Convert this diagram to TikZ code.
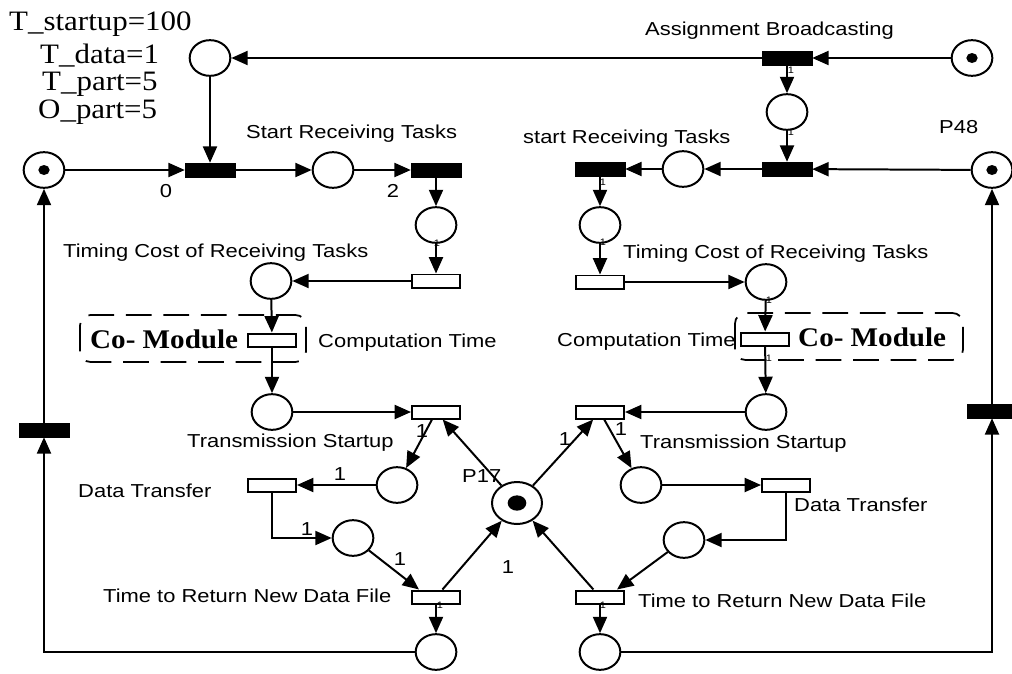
\documentclass[tikz,border=0pt]{standalone}
\usepackage{fontspec}
\setmainfont{Liberation Sans}
\newfontfamily\labfont[FakeStretch=1.17]{Liberation Sans}
\newfontfamily\parfont[FakeStretch=1.1]{Liberation Serif}
\newfontfamily\modfont[FakeStretch=1.08]{Liberation Serif}
\usetikzlibrary{arrows.meta,shapes.geometric,calc}

\tikzset{
  place/.style={draw, ellipse, minimum width=1.22cm, minimum height=1.07cm, inner sep=0pt, line width=1.7pt},
  bigplace/.style={place, minimum width=1.5cm, minimum height=1.26cm},
  bar/.style={fill=black, draw=black, minimum width=1.5cm, minimum height=0.42cm, inner sep=0pt},
  tbox/.style={draw, fill=white, minimum width=1.44cm, minimum height=0.39cm, inner sep=0pt, line width=1.7pt},
  arc/.style={line width=1.7pt, -{Triangle[length=14pt,width=12pt]}},
  lab/.style={anchor=base west, inner sep=0pt, font=\labfont\fontsize{16}{18}\selectfont},
  wlab/.style={anchor=base, inner sep=0pt, font=\labfont\fontsize{16}{18}\selectfont},
  par/.style={anchor=base west, inner sep=0pt, font=\parfont\fontsize{24}{28}\selectfont},
  modlab/.style={anchor=base west, inner sep=0pt, font=\modfont\bfseries\fontsize{23}{26}\selectfont},
  tick/.style={anchor=center, inner sep=0pt, font=\labfont\fontsize{8}{9}\selectfont},
  module/.style={line width=1.5pt, dash pattern=on 22pt off 10pt, rounded corners=9pt},
}

\begin{document}
\begin{tikzpicture}[x=0.03cm, y=-0.03cm]
\useasboundingbox (0,0) rectangle (1012,673);

% ---------- parameters ----------
\node[par] (par1) at (9,30) {T\_startup=100};
\node[par] (par2) at (40,63) {T\_data=1};
\node[par] (par3) at (42,90) {T\_part=5};
\node[par] (par4) at (38,118) {O\_part=5};

% ---------- left processor ----------
\node[place] (Ptop) at (210,58) {};
\node[place] (Pleft) at (44,170) {};
\fill (Pleft) ellipse (0.17cm and 0.15cm);
\node[bar] (T1) at (210,170) {};
\node[place] (Psr1) at (333,170) {};
\node[bar] (T2) at (436,170) {};
\node[place] (Pc1) at (436,225) {};
\node[tbox] (TC1) at (436,281) {};
\node[place] (Ptc1) at (271,281) {};
\node[tbox] (CM1) at (272,340) {};
\node[place] (Pts1) at (272,412) {};
\node[tbox] (TS1) at (436,412) {};
\node[place] (Pa1) at (397,485) {};
\node[tbox] (DT1) at (272,485) {};
\node[place] (Pb1) at (353,538) {};
\node[tbox] (TtR1) at (436,597) {};
\node[place] (Pbot1) at (436,652) {};
\node[bar] (Tleft) at (44,430) {};

% ---------- shared place ----------
\node[bigplace] (P17) at (517,503) {};
\fill (P17) ellipse (0.28cm and 0.23cm);

% ---------- right processor ----------
\node[place] (Ptr) at (972,58) {};
\fill (Ptr) ellipse (0.17cm and 0.15cm);
\node[bar] (TAB) at (787,58) {};
\node[place] (Pab) at (787,112) {};
\node[bar] (TR2) at (787,169) {};
\node[place] (P48) at (992,170) {};
\fill (P48) ellipse (0.17cm and 0.15cm);
\node[place] (Psr2) at (683,169) {};
\node[bar] (TR1) at (600,169) {};
\node[place] (Pc2) at (600,225) {};
\node[tbox] (TC2) at (600,282) {};
\node[place] (Ptc2) at (766,282) {};
\node[tbox] (CM2) at (765,339) {};
\node[place] (Pts2) at (766,412) {};
\node[tbox] (TS2) at (600,412) {};
\node[place] (Pa2) at (641,485) {};
\node[tbox] (DT2) at (786,485) {};
\node[place] (Pb2) at (684,540) {};
\node[tbox] (TtR2) at (600,597) {};
\node[place] (Pbot2) at (600,652) {};
\node[bar] (Tright) at (992,411) {};

% ---------- co-module frames ----------
\draw[module] (80,315) rectangle (306,362);
\draw[module] (735,313) rectangle (963,360);

% ---------- arcs, left ----------
\draw[arc] (Pleft) -- (T1);
\draw[arc] (Ptop) -- (T1);
\draw[arc] (T1) -- (Psr1);
\draw[arc] (Psr1) -- (T2);
\draw[arc] (T2) -- (Pc1);
\draw[arc] (Pc1) -- (TC1);
\draw[arc] (TC1) -- (Ptc1);
\draw[arc] (Ptc1) -- (CM1);
\draw[arc] (CM1) -- (Pts1);
\draw[arc] (Pts1) -- (TS1);
\draw[arc] (TS1) -- (Pa1);
\draw[arc] (P17) -- (TS1);
\draw[arc] (Pa1) -- (DT1);
\draw[arc] (DT1.south) |- (Pb1);
\draw[arc] (Pb1) -- ($(TtR1.north west)+(8,0)$);
\draw[arc] (TtR1) -- (P17);
\draw[arc] (TtR1) -- (Pbot1);
\coordinate (cBL) at (44,652);
\draw[arc] (Pbot1) -- (cBL) -- (Tleft);
\draw[arc] (Tleft) -- (Pleft);

% ---------- arcs, right ----------
\draw[arc] (Ptr) -- (TAB);
\draw[arc] (TAB) -- (Ptop);
\draw[arc] (TAB) -- (Pab);
\draw[arc] (Pab) -- (TR2);
\draw[arc] (P48) -- (TR2);
\draw[arc] (TR2) -- (Psr2);
\draw[arc] (Psr2) -- (TR1);
\draw[arc] (TR1) -- (Pc2);
\draw[arc] (Pc2) -- (TC2);
\draw[arc] (TC2) -- (Ptc2);
\draw[arc] (Ptc2) -- (CM2);
\draw[arc] (CM2) -- (Pts2);
\draw[arc] (Pts2) -- (TS2);
\draw[arc] (P17) -- (TS2);
\draw[arc] (TS2) -- (Pa2);
\draw[arc] (Pa2) -- (DT2);
\draw[arc] (DT2.south) |- (Pb2);
\draw[arc] (Pb2) -- ($(TtR2.north east)+(-8,0)$);
\draw[arc] (TtR2) -- (P17);
\draw[arc] (TtR2) -- (Pbot2);
\coordinate (cBR) at (992,652);
\draw[arc] (Pbot2) -- (cBR) -- (Tright);
\draw[arc] (Tright) -- (P48);

% ---------- labels ----------
\node[lab] (lAB) at (645,35) {Assignment Broadcasting};
\node[lab] (lSR1) at (246,138) {Start Receiving Tasks};
\node[lab] (lSR2) at (523,143) {start Receiving Tasks};
\node[lab] (lP48) at (939,133) {P48};
\node[lab] (lTC1) at (63,257) {Timing Cost of Receiving Tasks};
\node[lab] (lTC2) at (623,258) {Timing Cost of Receiving Tasks};
\node[lab] (lCT1) at (318,347) {Computation Time};
\node[lab] (lCT2) at (557,346) {Computation Time};
\node[modlab] (lCM1) at (90,348) {Co- Module};
\node[modlab] (lCM2) at (798,346) {Co- Module};
\node[lab] (lTS1) at (187,447) {Transmission Startup};
\node[lab] (lTS2) at (640,448) {Transmission Startup};
\node[lab] (lDT1) at (78,497) {Data Transfer};
\node[lab] (lDT2) at (794,511) {Data Transfer};
\node[lab] (lTR1) at (103,602) {Time to Return New Data File};
\node[lab] (lTR2) at (638,607) {Time to Return New Data File};
\node[lab] (lP17) at (462,482) {P17};

% ---------- arc weights ----------
\node[wlab] (w0) at (166,197) {0};
\node[wlab] (w2) at (393,197) {2};
\node[wlab] (w3) at (422,437) {1};
\node[wlab] (w4) at (340,480) {1};
\node[wlab] (w5) at (307,535) {1};
\node[wlab] (w6) at (400,565) {1};
\node[wlab] (w7) at (508,573) {1};
\node[wlab] (w8) at (565,445) {1};
\node[wlab] (w9) at (621,435) {1};

% small weights partly hidden by the arcs
\node[tick] (k1) at (791,70) {1};
\node[tick] (k2) at (791,132) {1};
\node[tick] (k3) at (603,182) {1};
\node[tick] (k4) at (437,243) {1};
\node[tick] (k5) at (603,242) {1};
\node[tick] (k6) at (769,300) {1};
\node[tick] (k7) at (769,358) {1};
\node[tick] (k8) at (440,605) {1};
\node[tick] (k9) at (603,605) {1};
\end{tikzpicture}
\end{document}
